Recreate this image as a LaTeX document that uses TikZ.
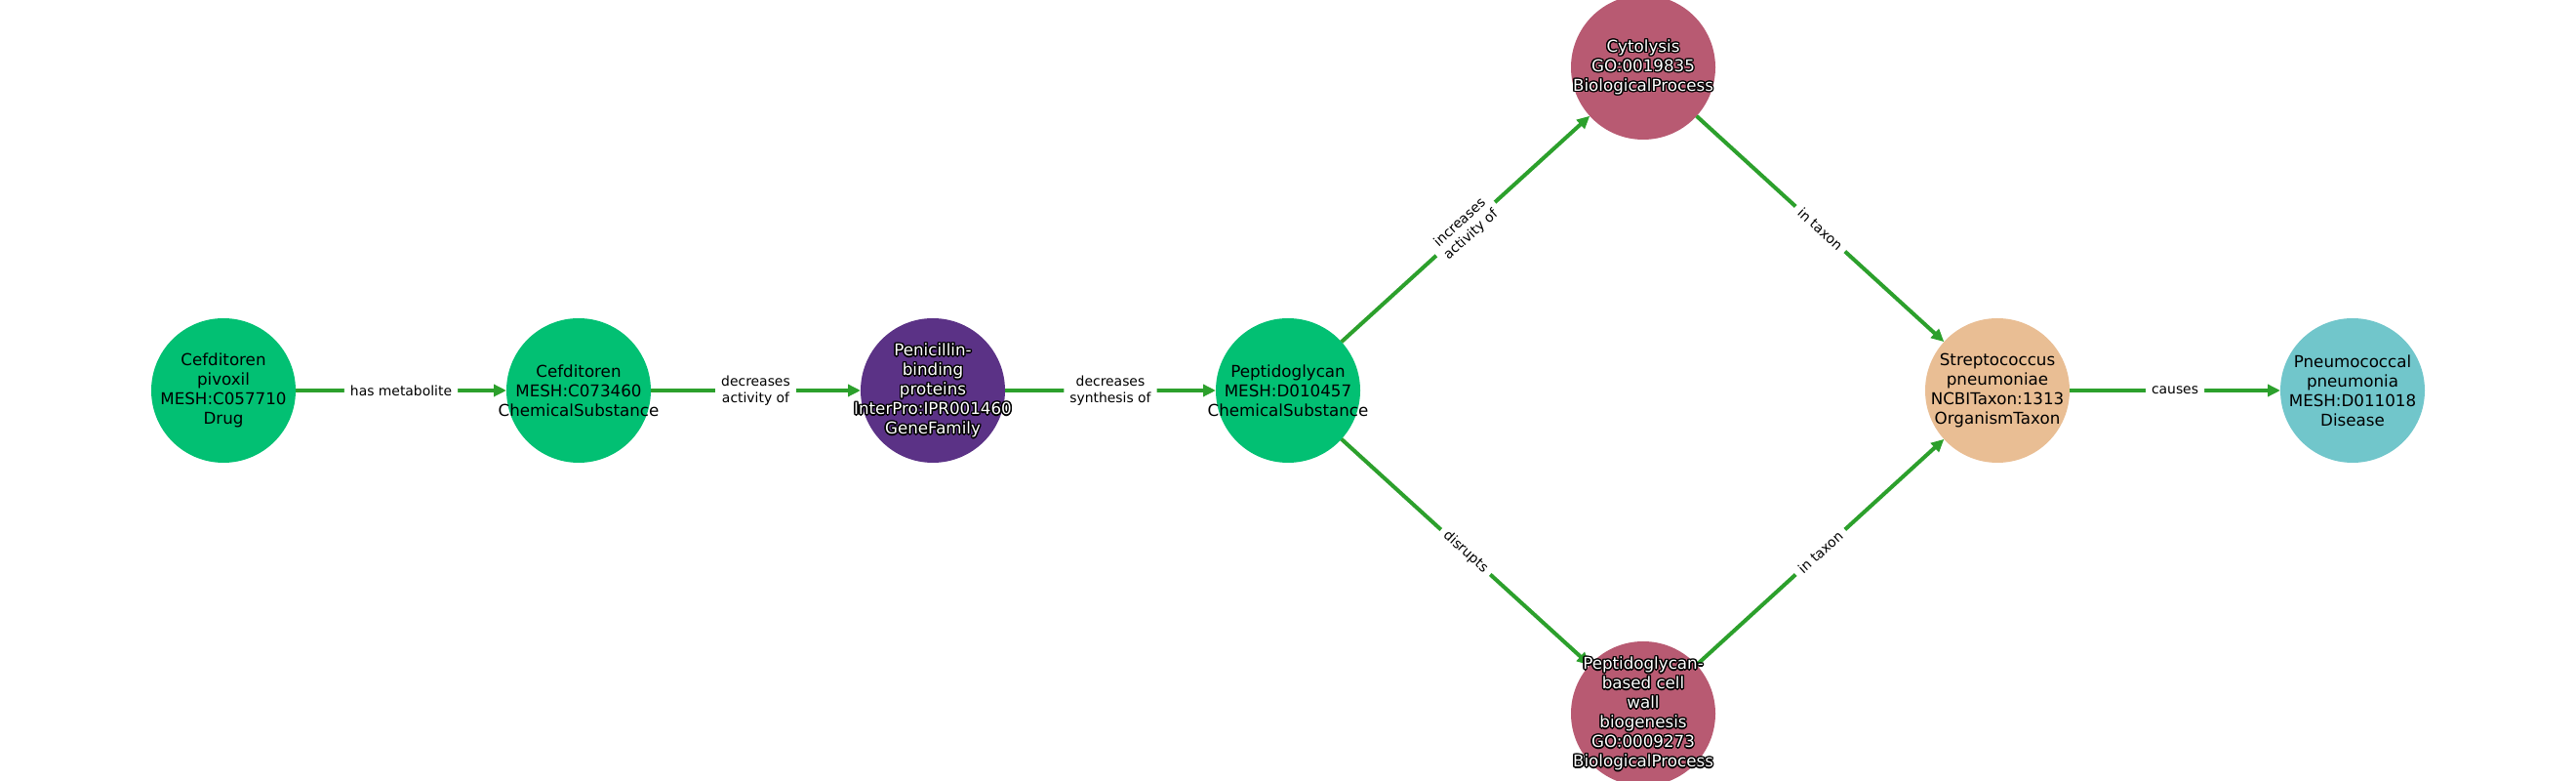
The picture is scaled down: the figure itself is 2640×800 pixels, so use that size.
\documentclass[tikz,border=0pt]{standalone}
\usepackage{fontspec}
\setmainfont{DejaVu Sans}
\usetikzlibrary{arrows.meta,calc}
\definecolor{cgreen}{RGB}{2,192,115}
\definecolor{cpurple}{RGB}{91,50,134}
\definecolor{crose}{RGB}{184,90,114}
\definecolor{cpeach}{RGB}{233,190,148}
\definecolor{cteal}{RGB}{113,198,203}
\definecolor{egreen}{RGB}{44,160,44}
\newcommand{\halotext}[2]{%
  \foreach \ang in {0,30,...,330} \node[ntext, text=black] at ([shift={(\ang:1.4)}]#1) {#2};
  \node[ntext, text=white] at (#1) {#2};
}
\begin{document}
\begin{tikzpicture}[x=1pt,y=1pt,
  ent/.style={circle, minimum size=148pt, inner sep=0pt, outer sep=0pt, draw=none},
  ntext/.style={font=\fontsize{16.7}{20}\selectfont, align=center, inner sep=0pt},
  elabel/.style={font=\fontsize{13.9}{16.7}\selectfont, align=center, fill=white, rounded corners=3pt, inner xsep=6pt, inner ysep=2pt, text=black},
  rel/.style={draw=egreen, line width=4pt, -{Triangle[length=13pt,width=12pt]}},
]
\useasboundingbox (0,0) rectangle (2640,800);
\clip (0,0) rectangle (2640,800);
\fill[white] (0,0) rectangle (2640,800);
% entity circles
\node[ent, fill=cgreen]  (n1) at (229,400) {};
\node[ent, fill=cgreen]  (n2) at (593,400) {};
\node[ent, fill=cpurple] (n3) at (956,400) {};
\node[ent, fill=cgreen]  (n4) at (1320,400) {};
\node[ent, fill=crose]   (n5) at (1684,731) {};
\node[ent, fill=crose]   (n6) at (1684,69) {};
\node[ent, fill=cpeach]  (n7) at (2047,400) {};
\node[ent, fill=cteal]   (n8) at (2411,400) {};
% relations
\draw[rel] (n1) -- node[elabel] {has metabolite} (n2);
\draw[rel] (n2) -- node[elabel] {decreases\\activity of} (n3);
\draw[rel] (n3) -- node[elabel] {decreases\\synthesis of} (n4);
\draw[rel] (n4) -- node[elabel, sloped] {increases\\activity of} (n5);
\draw[rel] (n4) -- node[elabel, sloped] {disrupts} (n6);
\draw[rel] (n5) -- node[elabel, sloped] {in taxon} (n7);
\draw[rel] (n6) -- node[elabel, sloped] {in taxon} (n7);
\draw[rel] (n7) -- node[elabel] {causes} (n8);
% texts
\node[ntext] (t1) at (n1) {Cefditoren\\pivoxil\\MESH:C057710\\Drug};
\node[ntext] (t2) at (n2) {Cefditoren\\MESH:C073460\\ChemicalSubstance};
\halotext{n3}{Penicillin-\\binding\\proteins\\InterPro:IPR001460\\GeneFamily}
\node[ntext] (t4) at (n4) {Peptidoglycan\\MESH:D010457\\ChemicalSubstance};
\halotext{n5}{Cytolysis\\GO:0019835\\BiologicalProcess}
\halotext{n6}{Peptidoglycan-\\based cell\\wall\\biogenesis\\GO:0009273\\BiologicalProcess}
\node[ntext] (t7) at (n7) {Streptococcus\\pneumoniae\\NCBITaxon:1313\\OrganismTaxon};
\node[ntext] (t8) at (n8) {Pneumococcal\\pneumonia\\MESH:D011018\\Disease};
\end{tikzpicture}
\end{document}
